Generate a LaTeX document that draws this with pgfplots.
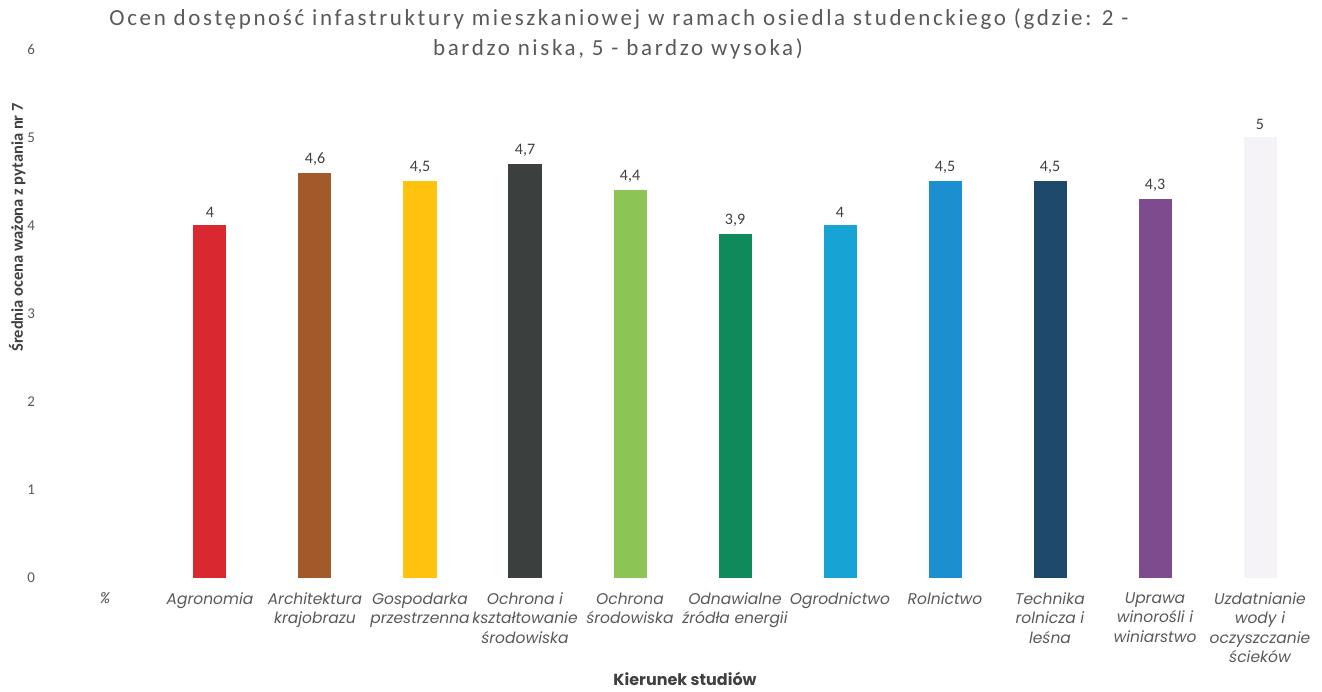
\documentclass[border=0pt]{standalone}
\usepackage{fontspec}
\setmainfont{Carlito}
\newfontfamily\titlefont[LetterSpace=11.5]{Carlito}
\newfontfamily\xfont{Poppins}
\usepackage{pgfplots}
\pgfplotsset{compat=1.18}
\definecolor{cAgr}{HTML}{D9282F}
\definecolor{cArch}{HTML}{A35A2A}
\definecolor{cGosp}{HTML}{FFC20F}
\definecolor{cOkszt}{HTML}{3B403F}
\definecolor{cOsrod}{HTML}{8DC456}
\definecolor{cOdn}{HTML}{0E8A5B}
\definecolor{cOgr}{HTML}{18A3D5}
\definecolor{cRol}{HTML}{1B8FD0}
\definecolor{cTech}{HTML}{1D4A6B}
\definecolor{cUpr}{HTML}{7F4B8F}
\definecolor{cUzd}{HTML}{F5F3F8}
\definecolor{txt}{HTML}{595959}
\definecolor{dtxt}{HTML}{404040}
\begin{document}
\begin{tikzpicture}[x=1pt,y=1pt]
\path[use as bounding box] (0,0) rectangle (1322,691);
\begin{axis}[
  at={(50,128)}, anchor=south west,
  scale only axis, width=1260pt, height=529pt,
  ybar, ymin=0, ymax=6, xmin=-0.5, xmax=11.5,
  ytick={0,1,2,3,4,5,6},
  xtick={0,...,11},
  xticklabels={\%, Agronomia, Architektura\\krajobrazu, Gospodarka\\przestrzenna, Ochrona i\\kształtowanie\\środowiska, Ochrona\\środowiska, Odnawialne\\źródła energii, Ogrodnictwo, Rolnictwo, Technika\\rolnicza i\\leśna, Uprawa\\winorośli i\\winiarstwo, Uzdatnianie\\wody i\\oczyszczanie\\ścieków},
  axis line style={draw=none},
  major tick length=0pt,
  /pgf/number format/assume math mode=true,
  /pgf/number format/use comma,
  yticklabel style={font=\fontsize{15}{18}\selectfont, text=txt, anchor=east, xshift=-14pt},
  xticklabel style={font=\xfont\itshape\fontsize{15.5}{19.5}\selectfont, text=txt, align=center, anchor=north, yshift=-11pt},
  xlabel={Kierunek studiów},
  xlabel style={at={(axis description cs:0.502,-0.191)}, anchor=center, font=\xfont\bfseries\fontsize{16}{18}\selectfont, text=dtxt},
  ylabel={Średnia ocena ważona z pytania nr 7},
  ylabel style={at={(axis description cs:-0.028,0.663)}, anchor=center, font=\bfseries\fontsize{16.5}{18}\selectfont, text=dtxt},
  every axis plot/.append style={bar width=33pt, bar shift=0pt, draw=none},
  nodes near coords,
  every node near coord/.append style={font=\fontsize{16}{18}\selectfont, text=dtxt, yshift=4pt},
]
\addplot[fill=cAgr] coordinates {(1,4)};
\addplot[fill=cArch] coordinates {(2,4.6)};
\addplot[fill=cGosp] coordinates {(3,4.5)};
\addplot[fill=cOkszt] coordinates {(4,4.7)};
\addplot[fill=cOsrod] coordinates {(5,4.4)};
\addplot[fill=cOdn] coordinates {(6,3.9)};
\addplot[fill=cOgr] coordinates {(7,4)};
\addplot[fill=cRol] coordinates {(8,4.5)};
\addplot[fill=cTech] coordinates {(9,4.5)};
\addplot[fill=cUpr] coordinates {(10,4.3)};
\addplot[fill=cUzd] coordinates {(11,5)};
\end{axis}
\node[font=\titlefont\fontsize{23}{26}\selectfont, text=txt] at (619,672) {Ocen dostępność infastruktury mieszkaniowej w ramach osiedla studenckiego (gdzie: 2 -};
\node[font=\titlefont\fontsize{23}{26}\selectfont, text=txt] at (618,642) {bardzo niska, 5 - bardzo wysoka)};
\end{tikzpicture}
\end{document}
